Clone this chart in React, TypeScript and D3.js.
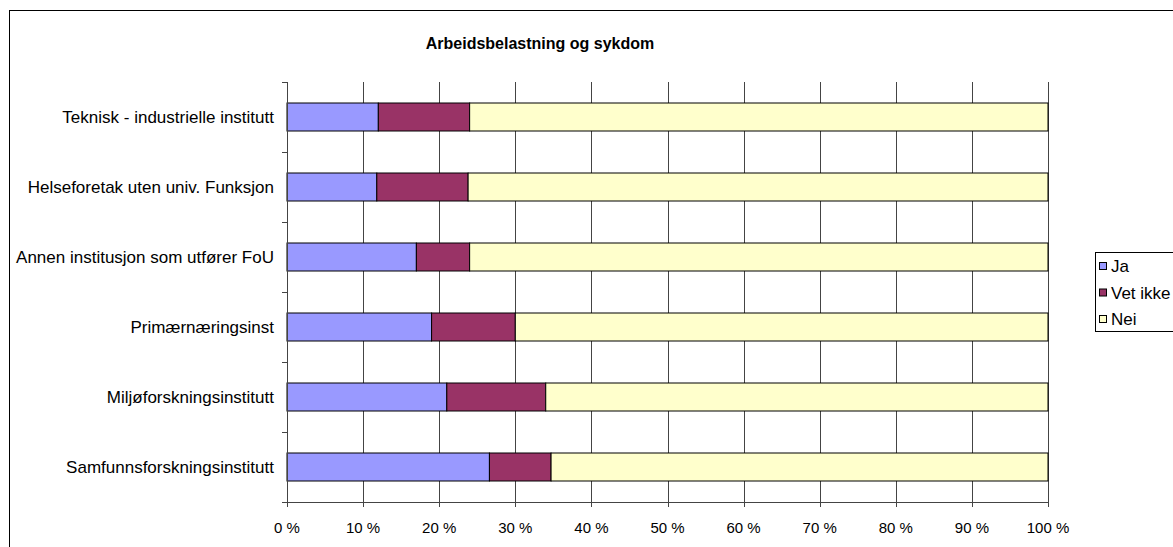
import React from "react";
import * as d3 from "d3";

const categories = [
  "Teknisk - industrielle institutt",
  "Helseforetak uten univ. Funksjon",
  "Annen institusjon som utfører FoU",
  "Primærnæringsinst",
  "Miljøforskningsinstitutt",
  "Samfunnsforskningsinstitutt",
];
const seriesNames = ["Ja", "Vet ikke", "Nei"];
const ja = [12, 11.8, 17, 19, 21, 26.6];
const vetIkke = [12, 12, 7, 11, 13, 8.1];
const nei = [76, 76.2, 76, 70, 66, 65.3];
const colors = ["#9999FF", "#993366", "#FFFFCC"];
const xTicks = [0, 10, 20, 30, 40, 50, 60, 70, 80, 90, 100];

const W = 1173;
const H = 547;
const FONT = "'Liberation Sans', Arial, sans-serif";

export default function App() {
  const left = 287, right = 1048, top = 82, bottom = 502;
  const x = d3.scaleLinear().domain([0, 100]).range([left, right]);
  const y = d3
    .scaleBand<string>()
    .domain(categories)
    .range([top, bottom])
    .paddingInner(0.6)
    .paddingOuter(0.3);
  const step = y.step();

  const rows = categories.map((c, i) => ({ cat: c, Ja: ja[i], "Vet ikke": vetIkke[i], Nei: nei[i] }));
  const stacked = d3.stack<any>().keys(seriesNames)(rows);

  const bounds = d3.range(categories.length + 1).map((i) => top + i * step);

  return (
    <svg width={W} height={H} style={{ position: "absolute", left: 0, top: 0, background: "#fff" }} fontFamily={FONT}>
      <rect x={9.5} y={10.5} width={1300} height={1000} fill="#fff" stroke="#000" strokeWidth={1} />
      <text x={540} y={49} textAnchor="middle" fontSize={16} fontWeight="bold" fill="#000">
        Arbeidsbelastning og sykdom
      </text>
      {/* gridlines */}
      {xTicks.slice(1).map((t) => (
        <line key={"g" + t} x1={Math.round(x(t)) + 0.5} x2={Math.round(x(t)) + 0.5} y1={top} y2={bottom} stroke="#444" strokeWidth={1} />
      ))}
      {/* bars */}
      {stacked.map((s, si) =>
        s.map((d, i) => (
          <rect
            key={si + "-" + i}
            x={x(d[0])}
            y={y(categories[i])!}
            width={x(d[1]) - x(d[0])}
            height={y.bandwidth()}
            fill={colors[si]}
            stroke="#000"
            strokeWidth={1}
          />
        ))
      )}
      {/* axes */}
      <line x1={left + 0.5} x2={left + 0.5} y1={top} y2={bottom} stroke="#444" />
      {bounds.map((b, i) => (
        <line key={"yt" + i} x1={left - 5} x2={left} y1={Math.round(b) + 0.5} y2={Math.round(b) + 0.5} stroke="#444" />
      ))}
      <line x1={left} x2={right + 1} y1={bottom + 0.5} y2={bottom + 0.5} stroke="#444" />
      {xTicks.map((t) => (
        <g key={"xt" + t}>
          <line x1={Math.round(x(t)) + 0.5} x2={Math.round(x(t)) + 0.5} y1={bottom} y2={bottom + 5} stroke="#444" />
          <text x={x(t)} y={533} textAnchor="middle" fontSize={15} fill="#000">
            {t} %
          </text>
        </g>
      ))}
      {categories.map((c) => (
        <text key={c} x={274} y={y(c)! + y.bandwidth() / 2 + 6} textAnchor="end" fontSize={17} fill="#000">
          {c}
        </text>
      ))}
      {/* legend */}
      <rect x={1095.5} y={252.5} width={120} height={79} fill="#fff" stroke="#000" strokeWidth={1} />
      {seriesNames.map((n, i) => (
        <g key={n}>
          <rect x={1099.5} y={262.5 + i * 26.5} width={7} height={7} fill={colors[i]} stroke="#000" strokeWidth={1} />
          <text x={1111} y={272 + i * 26.5} fontSize={17} fill="#000">
            {n}
          </text>
        </g>
      ))}
    </svg>
  );
}
